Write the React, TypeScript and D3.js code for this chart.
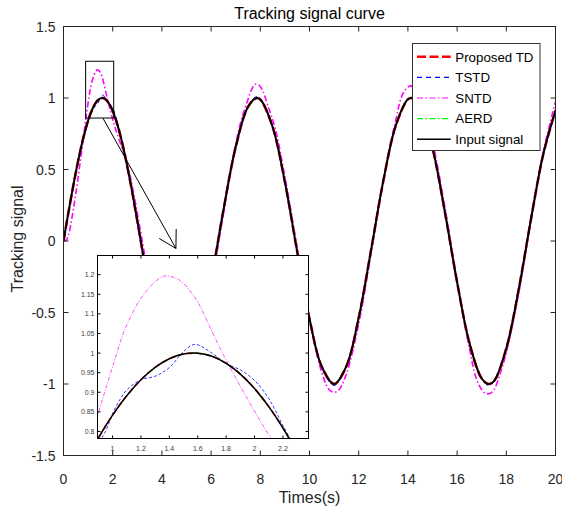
import React from 'react';
import * as d3 from 'd3';

type Pt = [number, number];

// ---------- data (time s, signal) ----------
const inputSignal: Pt[] = [
  [0, 0], [0.25, 0.2474], [0.5, 0.4794], [0.75, 0.6816], [0.9, 0.7833], [1.0, 0.8415], [1.1, 0.8912],
  [1.2, 0.932], [1.3, 0.9636], [1.4, 0.9854], [1.5, 0.9975], [1.6, 0.9996], [1.7, 0.9917], [1.8, 0.9738],
  [1.9, 0.9463], [2.0, 0.9093], [2.1, 0.8632], [2.2, 0.8085], [2.3, 0.7457], [2.4, 0.6755], [2.5, 0.5985],
  [2.75, 0.3817], [3.0, 0.1411], [3.5, -0.3508], [4.0, -0.7568], [4.5, -0.9775], [4.71, -1.0], [5.0, -0.9589],
  [5.5, -0.7055], [6.0, -0.2794], [6.5, 0.2151], [7.0, 0.657], [7.5, 0.938], [7.85, 1.0], [8.0, 0.9894],
  [8.5, 0.7985], [9.0, 0.4121], [9.5, -0.0752], [10.0, -0.544], [10.5, -0.8797], [11.0, -1.0], [11.5, -0.8755],
  [12.0, -0.5366], [12.5, -0.0663], [13.0, 0.4202], [13.5, 0.8038], [14.0, 0.9906], [14.14, 1.0], [14.5, 0.9349],
  [15.0, 0.6503], [15.5, 0.2065], [16.0, -0.2879], [16.5, -0.7122], [17.0, -0.9614], [17.28, -1.0], [17.5, -0.9802],
  [18.0, -0.751], [18.5, -0.3425], [19.0, 0.1499], [19.5, 0.6055], [20.0, 0.9129],
];

const proposedTD: Pt[] = [
  [0, 0], [0.25, 0.2465], [0.5, 0.479], [0.75, 0.6812], [0.9, 0.783], [1.0, 0.8413], [1.1, 0.891],
  [1.2, 0.9319], [1.3, 0.9636], [1.4, 0.9854], [1.5, 0.9975], [1.6, 0.9996], [1.7, 0.9918], [1.8, 0.974],
  [1.9, 0.9466], [2.0, 0.9097], [2.1, 0.8637], [2.2, 0.809], [2.3, 0.7462], [2.4, 0.676], [2.5, 0.599],
  [2.75, 0.3825], [3.0, 0.142], [3.5, -0.35], [4.0, -0.756], [4.5, -0.977], [4.71, -1.0], [5.0, -0.959],
  [5.5, -0.706], [6.0, -0.28], [6.5, 0.214], [7.0, 0.656], [7.5, 0.938], [7.85, 1.0], [8.0, 0.9895],
  [8.5, 0.799], [9.0, 0.413], [9.5, -0.074], [10.0, -0.543], [10.5, -0.879], [11.0, -1.0], [11.5, -0.876],
  [12.0, -0.537], [12.5, -0.067], [13.0, 0.419], [13.5, 0.803], [14.0, 0.9905], [14.14, 1.0], [14.5, 0.935],
  [15.0, 0.651], [15.5, 0.207], [16.0, -0.287], [16.5, -0.712], [17.0, -0.961], [17.28, -1.0], [17.5, -0.9805],
  [18.0, -0.752], [18.5, -0.343], [19.0, 0.149], [19.5, 0.605], [20.0, 0.913],
];

const tstd: Pt[] = [
  [0, 0], [0.25, 0.25], [0.5, 0.482], [0.75, 0.683], [0.9, 0.77], [0.95, 0.8], [1.0, 0.845], [1.05, 0.88],
  [1.1, 0.906], [1.2, 0.932], [1.3, 0.941], [1.4, 0.963], [1.5, 1.004], [1.58, 1.022], [1.7, 1.0],
  [1.8, 0.973], [1.9, 0.957], [2.0, 0.93], [2.1, 0.884], [2.2, 0.815], [2.3, 0.748], [2.4, 0.677],
  [2.5, 0.599], [2.75, 0.382], [3.0, 0.141], [3.5, -0.351], [4.0, -0.757], [4.5, -0.98], [4.71, -1.01],
  [5.0, -0.962], [5.5, -0.706], [6.0, -0.28], [6.5, 0.215], [7.0, 0.657], [7.5, 0.94], [7.85, 1.01],
  [8.0, 0.995], [8.5, 0.8], [9.0, 0.412], [9.5, -0.075], [10.0, -0.544], [10.5, -0.882], [11.0, -1.01],
  [11.5, -0.878], [12.0, -0.537], [12.5, -0.066], [13.0, 0.42], [13.5, 0.805], [14.0, 0.995], [14.14, 1.01],
  [14.5, 0.937], [15.0, 0.65], [15.5, 0.206], [16.0, -0.288], [16.5, -0.713], [17.0, -0.965], [17.28, -1.01],
  [17.5, -0.983], [18.0, -0.751], [18.5, -0.342], [19.0, 0.15], [19.5, 0.605], [20.0, 0.913],
];

const sntd: Pt[] = [
  [0, 0], [0.1, 0.005], [0.2, 0.04], [0.3, 0.12], [0.4, 0.22], [0.5, 0.33], [0.6, 0.45], [0.7, 0.58],
  [0.8, 0.71], [0.9, 0.846], [1.0, 0.965], [1.07, 1.045], [1.1, 1.072], [1.2, 1.14], [1.3, 1.182],
  [1.37, 1.197], [1.45, 1.19], [1.5, 1.178], [1.6, 1.13], [1.7, 1.055], [1.8, 0.982], [1.9, 0.915],
  [2.0, 0.852], [2.117, 0.782], [2.3, 0.69], [2.5, 0.59], [2.7, 0.46], [2.9, 0.29], [3.1, 0.1],
  [3.3, -0.1], [3.5, -0.3], [4.0, -0.75], [4.5, -1.03], [4.75, -1.06], [5.0, -1.02], [5.5, -0.76],
  [6.0, -0.32], [6.5, 0.19], [7.0, 0.68], [7.25, 0.86], [7.5, 0.99], [7.65, 1.06], [7.8, 1.097],
  [7.95, 1.09], [8.1, 1.05], [8.3, 0.95], [8.6, 0.79], [9.0, 0.45], [9.5, -0.05], [10.0, -0.55],
  [10.5, -0.92], [10.8, -1.04], [11.0, -1.058], [11.2, -1.04], [11.5, -0.93], [12.0, -0.58], [12.5, -0.09],
  [13.0, 0.42], [13.5, 0.84], [13.8, 1.03], [14.1, 1.085], [14.4, 1.04], [14.7, 0.9], [15.0, 0.7],
  [15.5, 0.24], [16.0, -0.28], [16.5, -0.75], [16.8, -0.97], [17.1, -1.06], [17.3, -1.068], [17.5, -1.04],
  [17.8, -0.9], [18.0, -0.78], [18.5, -0.37], [19.0, 0.14], [19.5, 0.62], [20.0, 0.975],
];

const aerd: Pt[] = [
  [0, 0], [0.25, 0.247], [0.5, 0.4792], [0.75, 0.6815], [0.9, 0.7833], [1.0, 0.8416], [1.1, 0.8914],
  [1.2, 0.9323], [1.3, 0.964], [1.4, 0.9859], [1.5, 0.9982], [1.6, 1.0004], [1.7, 0.9925], [1.8, 0.9745],
  [1.9, 0.947], [2.0, 0.91], [2.1, 0.864], [2.2, 0.8095], [2.3, 0.7465], [2.4, 0.676], [2.5, 0.599],
  [2.75, 0.382], [3.0, 0.1413], [3.5, -0.3505], [4.0, -0.7565], [4.5, -0.9775], [4.71, -1.0], [5.0, -0.959],
  [5.5, -0.7055], [6.0, -0.2795], [6.5, 0.215], [7.0, 0.657], [7.5, 0.938], [7.85, 1.0], [8.0, 0.9894],
  [8.5, 0.7985], [9.0, 0.4121], [9.5, -0.0752], [10.0, -0.544], [10.5, -0.8797], [11.0, -1.0], [11.5, -0.8755],
  [12.0, -0.5366], [12.5, -0.0663], [13.0, 0.4202], [13.5, 0.8038], [14.0, 0.9906], [14.14, 1.0], [14.5, 0.9349],
  [15.0, 0.6503], [15.5, 0.2065], [16.0, -0.2879], [16.5, -0.7122], [17.0, -0.9614], [17.28, -1.0], [17.5, -0.9802],
  [18.0, -0.751], [18.5, -0.3425], [19.0, 0.1499], [19.5, 0.6055], [20.0, 0.9129],
];

const xTicks = [0, 2, 4, 6, 8, 10, 12, 14, 16, 18, 20];
const yTicks = [-1.5, -1, -0.5, 0, 0.5, 1, 1.5];
const insetXTicks = [1, 1.2, 1.4, 1.6, 1.8, 2, 2.2];
const insetYTicks = [0.8, 0.85, 0.9, 0.95, 1, 1.05, 1.1, 1.15, 1.2];
const legendNames = ['Proposed TD', 'TSTD', 'SNTD', 'AERD', 'Input signal'];

// zoom annotation (data units)
const zoomBoxX = [0.9, 2.04];
const zoomBoxY = [0.86, 1.257];
const arrowFrom: Pt = [1.6, 0.86];
const arrowTo: Pt = [4.57, -0.052];

const FONT = '"Liberation Sans", Arial, Helvetica, sans-serif';
const TXT = '#262626';

interface SeriesStyle {
  data: Pt[];
  color: string;
  width: number;
  dash: string;
  iWidth: number;
  iDash: string;
}

const series: SeriesStyle[] = [
  { data: proposedTD, color: '#ff0000', width: 2.6, dash: '9,3.5', iWidth: 1.6, iDash: '6,3' },
  { data: tstd, color: '#0000ff', width: 1, dash: '5,4', iWidth: 0.8, iDash: '3,2' },
  { data: sntd, color: '#ff00ff', width: 1.6, dash: '6,2.5,1.5,2.5', iWidth: 0.7, iDash: '4,1.5,1,1.5' },
  { data: aerd, color: '#00ff00', width: 1, dash: '6,2.5,1.5,2.5', iWidth: 1, iDash: '4,1.5,1,1.5' },
  { data: inputSignal, color: '#000000', width: 2, dash: '', iWidth: 1.5, iDash: '' },
];

const fmt = (v: number) => String(v);

export default function App() {
  const L = 63.5, R = 555.5, T = 26.5, B = 455.5;
  const x = d3.scaleLinear().domain([0, 20]).range([L, R]);
  const y = d3.scaleLinear().domain([-1.5, 1.5]).range([B, T]);

  const iL = 97.5, iR = 308.5, iT = 255.5, iB = 438.5;
  const xi = d3.scaleLinear().domain([0.894, 2.38]).range([iL, iR]);
  const yi = d3.scaleLinear().domain([0.782, 1.249]).range([iB, iT]);

  const curve = d3.curveCatmullRom.alpha(0.5);
  const line = d3.line<Pt>().x(d => x(d[0])).y(d => y(d[1])).curve(curve);
  const iline = d3.line<Pt>().x(d => xi(d[0])).y(d => yi(d[1])).curve(curve);

  // arrow geometry
  const ax1 = x(arrowFrom[0]), ay1 = y(arrowFrom[1]);
  const ax2 = x(arrowTo[0]), ay2 = y(arrowTo[1]);
  const ang = Math.atan2(ay2 - ay1, ax2 - ax1);
  const hl = 19.5, hs = Math.PI / 6;
  const h1: Pt = [ax2 - hl * Math.cos(ang - hs), ay2 - hl * Math.sin(ang - hs)];
  const h2: Pt = [ax2 - hl * Math.cos(ang + hs), ay2 - hl * Math.sin(ang + hs)];

  const legX = 412.5, legY = 43.5, legW = 127.5, legH = 107;
  const legRow = 20.6, legFirst = 56.8;

  return (
    <svg width={562} height={512} style={{ position: 'absolute', left: 0, top: 0, background: '#fff' }}
      fontFamily={FONT}>
      <defs>
        <clipPath id="mainclip"><rect x={L} y={T} width={R - L} height={B - T} /></clipPath>
        <clipPath id="insetclip"><rect x={iL} y={iT} width={iR - iL} height={iB - iT} /></clipPath>
      </defs>
      <rect x={0} y={0} width={562} height={512} fill="#fff" />

      {/* main series */}
      <g clipPath="url(#mainclip)" fill="none">
        {series.map((s, i) => (
          <path key={i} d={line(s.data) || ''} stroke={s.color} strokeWidth={s.width}
            strokeDasharray={s.dash || undefined} strokeLinejoin="round" />
        ))}
      </g>

      {/* main axes box */}
      <rect x={L} y={T} width={R - L} height={B - T} fill="none" stroke={TXT} strokeWidth={1} />
      {xTicks.map(t => (
        <g key={'xt' + t}>
          <line x1={x(t)} x2={x(t)} y1={B} y2={B - 5} stroke={TXT} />
          <line x1={x(t)} x2={x(t)} y1={T} y2={T + 5} stroke={TXT} />
          <text x={x(t)} y={484} fontSize={14} textAnchor="middle" fill={TXT}>{fmt(t)}</text>
        </g>
      ))}
      {yTicks.map(t => (
        <g key={'yt' + t}>
          <line x1={L} x2={L + 5} y1={y(t)} y2={y(t)} stroke={TXT} />
          <line x1={R} x2={R - 5} y1={y(t)} y2={y(t)} stroke={TXT} />
          <text x={55.5} y={y(t) + 5} fontSize={14} textAnchor="end" fill={TXT}>{fmt(t)}</text>
        </g>
      ))}
      <text x={(L + R) / 2} y={18.5} fontSize={16} textAnchor="middle" fill="#000">Tracking signal curve</text>
      <text x={(L + R) / 2} y={503} fontSize={16} textAnchor="middle" fill={TXT}>Times(s)</text>
      <text transform={`translate(22.5,${(T + B) / 2 - 2}) rotate(-90)`} fontSize={16} textAnchor="middle" fill={TXT}>Tracking signal</text>

      {/* zoom box and arrow */}
      <rect x={x(zoomBoxX[0])} y={y(zoomBoxY[1])} width={x(zoomBoxX[1]) - x(zoomBoxX[0])}
        height={y(zoomBoxY[0]) - y(zoomBoxY[1])} fill="none" stroke="#000" strokeWidth={1} />
      <line x1={ax1} y1={ay1} x2={ax2} y2={ay2} stroke="#000" strokeWidth={1} />
      <line x1={h1[0]} y1={h1[1]} x2={ax2} y2={ay2} stroke="#000" strokeWidth={1} />
      <line x1={h2[0]} y1={h2[1]} x2={ax2} y2={ay2} stroke="#000" strokeWidth={1} />

      {/* inset */}
      <rect x={iL} y={iT} width={iR - iL} height={iB - iT} fill="#fff" />
      <g clipPath="url(#insetclip)" fill="none">
        {series.map((s, i) => (
          <path key={i} d={iline(s.data) || ''} stroke={s.color} strokeWidth={s.iWidth}
            strokeDasharray={s.iDash || undefined} strokeLinejoin="round" />
        ))}
      </g>
      <rect x={iL} y={iT} width={iR - iL} height={iB - iT} fill="none" stroke="#000" strokeWidth={1} />
      {insetXTicks.map(t => (
        <g key={'ixt' + t}>
          <line x1={xi(t)} x2={xi(t)} y1={iB} y2={iB - 3} stroke="#000" />
          <line x1={xi(t)} x2={xi(t)} y1={iT} y2={iT + 3} stroke="#000" />
          <text x={xi(t)} y={451} fontSize={7} textAnchor="middle" fill="#404040">{fmt(t)}</text>
        </g>
      ))}
      {insetYTicks.map(t => (
        <g key={'iyt' + t}>
          <line x1={iL} x2={iL + 3} y1={yi(t)} y2={yi(t)} stroke="#000" />
          <line x1={iR} x2={iR - 3} y1={yi(t)} y2={yi(t)} stroke="#000" />
          <text x={94.5} y={yi(t) + 2.5} fontSize={7} textAnchor="end" fill="#404040">{fmt(t)}</text>
        </g>
      ))}

      {/* legend */}
      <rect x={legX} y={legY} width={legW} height={legH} fill="#fff" stroke="#333" strokeWidth={1} />
      {series.map((s, i) => {
        const ly = legFirst + i * legRow;
        return (
          <g key={'lg' + i}>
            <line x1={417} x2={450.7} y1={ly} y2={ly} stroke={s.color} strokeWidth={i === 0 ? 2.6 : (i === 4 ? 1.5 : 1.2)}
              strokeDasharray={s.dash || undefined} />
            <text x={455.3} y={ly + 4.8} fontSize={13.3} fill="#000">{legendNames[i]}</text>
          </g>
        );
      })}
    </svg>
  );
}
